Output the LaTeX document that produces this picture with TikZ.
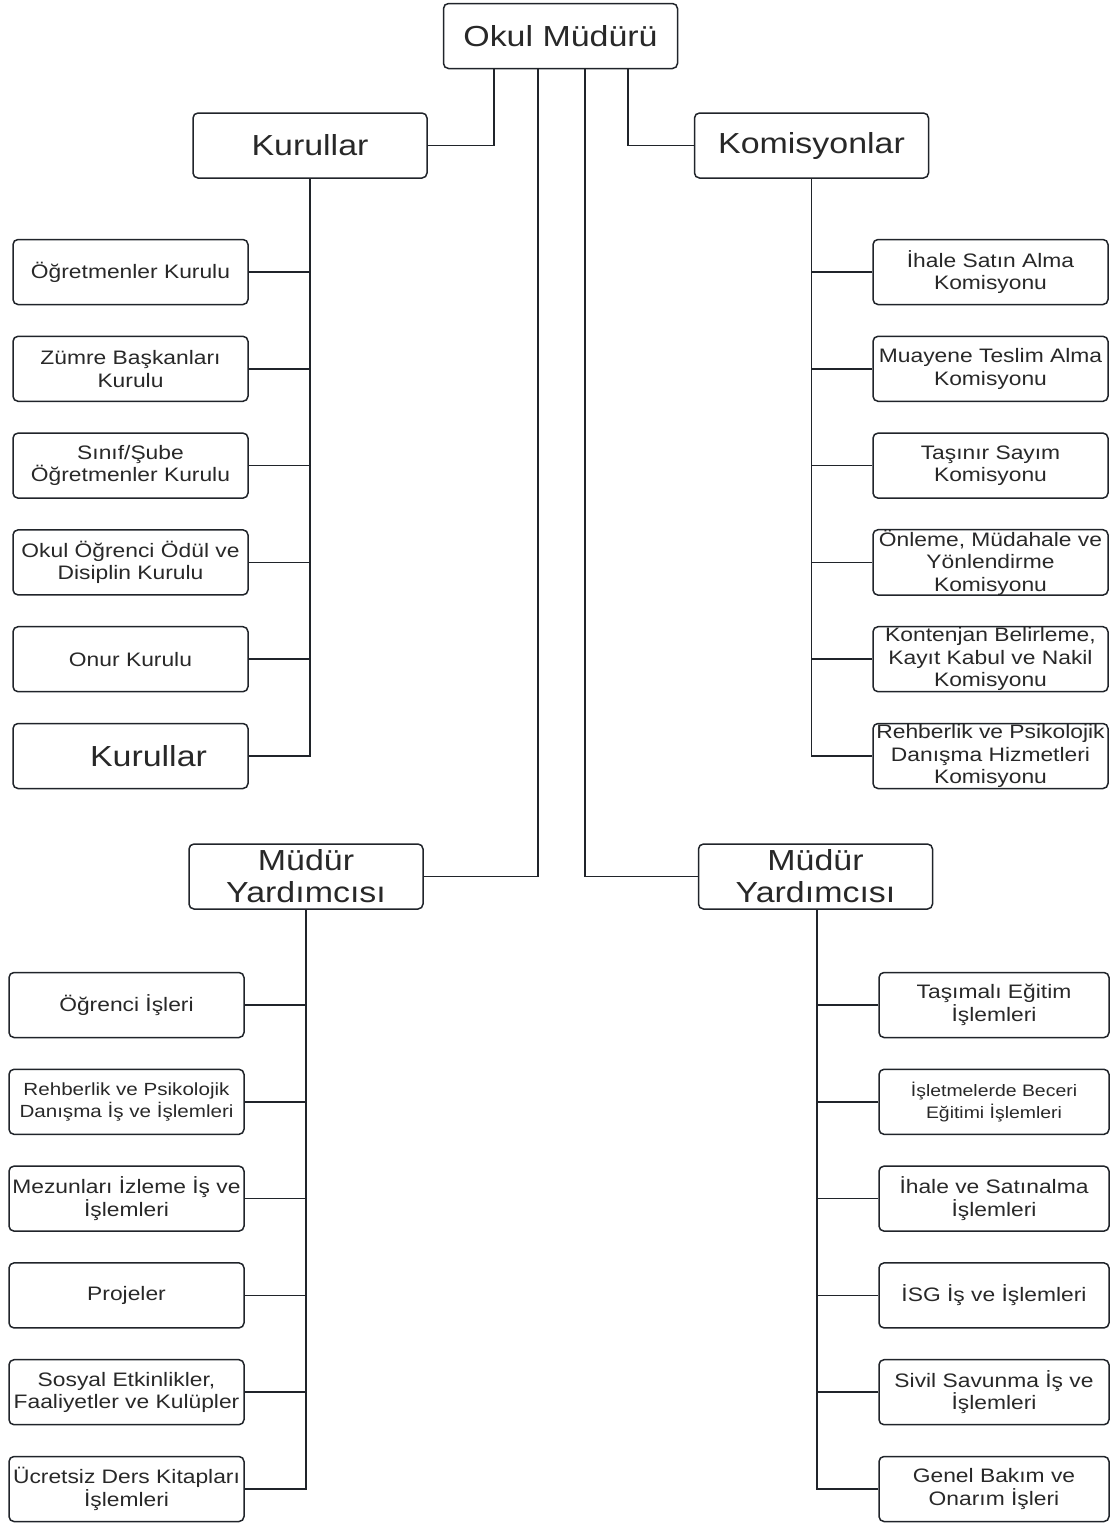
\documentclass[tikz,border=0pt]{standalone}
\usepackage{fontspec}
\setmainfont{Liberation Sans}[FakeStretch=1.17]
\definecolor{linecol}{RGB}{32,36,42}
\definecolor{textcol}{RGB}{40,40,40}
\newcommand{\headfont}{\fontsize{29}{32}\selectfont}
\newcommand{\itemfont}{\fontsize{19.5}{22.5}\selectfont}
\newcommand{\tinyitemfont}{\fontsize{17.6}{22.5}\selectfont}
\tikzset{
  box/.style={draw=linecol, line width=1.5pt, rounded corners=5pt, inner sep=0pt, align=center, text=textcol},
  headbox/.style={box, minimum width=234pt, minimum height=65pt, font=\headfont},
  itembox/.style={box, minimum width=235pt, minimum height=65pt, font=\itemfont},
  link/.style={draw=linecol, line width=1.5pt}
}

\begin{document}
\begin{tikzpicture}[x=1pt,y=-1pt]
    \useasboundingbox (0,0) rectangle (1110,1524);
    % top level
    \node[headbox] (okul) at (560.5,36) {Okul Müdürü};
    \node[headbox] (kur) at (310,145.5) {Kurullar};
    \node[headbox] (kom) at (811.5,145.5) {Komisyonlar};
    \node[headbox] (myl) at (306,876.5) {Müdür\\Yardımcısı};
    \node[headbox] (myr) at (815.5,876.5) {Müdür\\Yardımcısı};

    % kurullar
    \node[itembox] (kr1) at (130.5,272) {Öğretmenler Kurulu};
    \node[itembox] (kr2) at (130.5,368.8) {Zümre Başkanları\\Kurulu};
    \node[itembox] (kr3) at (130.5,465.6) {Sınıf/Şube\\Öğretmenler Kurulu};
    \node[itembox] (kr4) at (130.5,562.4) {Okul Öğrenci Ödül ve\\Disiplin Kurulu};
    \node[itembox] (kr5) at (130.5,659.2) {Onur Kurulu};
    \node[itembox,font=\headfont] (kr6) at (130.5,756) {\hspace*{36pt}Kurullar};

    % komisyonlar
    \node[itembox] (km1) at (990.5,272) {İhale Satın Alma\\Komisyonu};
    \node[itembox] (km2) at (990.5,368.8) {Muayene Teslim Alma\\Komisyonu};
    \node[itembox] (km3) at (990.5,465.6) {Taşınır Sayım\\Komisyonu};
    \node[itembox] (km4) at (990.5,562.4) {Önleme, Müdahale ve\\Yönlendirme\\Komisyonu};
    \node[itembox] (km5) at (990.5,659.2) {Kontenjan Belirleme,\\Kayıt Kabul ve Nakil\\Komisyonu};
    \node[itembox] (km6) at (990.5,756) {Rehberlik ve Psikolojik\\Danışma Hizmetleri\\Komisyonu};

    % sol mudur yardimcisi
    \node[itembox] (ly1) at (126.5,1005) {Öğrenci İşleri};
    \node[itembox,font=\tinyitemfont] (ly2) at (126.5,1101.8) {Rehberlik ve Psikolojik\\Danışma İş ve İşlemleri};
    \node[itembox] (ly3) at (126.5,1198.6) {Mezunları İzleme İş ve\\İşlemleri};
    \node[itembox] (ly4) at (126.5,1295.4) {Projeler};
    \node[itembox] (ly5) at (126.5,1392.2) {Sosyal Etkinlikler,\\Faaliyetler ve Kulüpler};
    \node[itembox] (ly6) at (126.5,1489) {Ücretsiz Ders Kitapları\\İşlemleri};

    % sag mudur yardimcisi
    \node[itembox,minimum width=230pt] (ry1) at (994,1005) {Taşımalı Eğitim\\İşlemleri};
    \node[itembox,minimum width=230pt,font=\fontsize{16.6}{22.5}\selectfont] (ry2) at (994,1101.8) {İşletmelerde Beceri\\Eğitimi İşlemleri};
    \node[itembox,minimum width=230pt] (ry3) at (994,1198.6) {İhale ve Satınalma\\İşlemleri};
    \node[itembox,minimum width=230pt] (ry4) at (994,1295.4) {İSG İş ve İşlemleri};
    \node[itembox,minimum width=230pt] (ry5) at (994,1392.2) {Sivil Savunma İş ve\\İşlemleri};
    \node[itembox,minimum width=230pt] (ry6) at (994,1489) {Genel Bakım ve\\Onarım İşleri};

    % baglantilar
    \draw[link] ([xshift=-66.5pt]okul.south) |- (kur.east);
    \draw[link] ([xshift=-22.5pt]okul.south) |- (myl.east);
    \draw[link] ([xshift=24.5pt]okul.south) |- (myr.west);
    \draw[link] ([xshift=67.5pt]okul.south) |- (kom.west);

    \draw[link] (kur.south) |- (kr6.east);
    \draw[link] (kom.south) |- (km6.west);
    \draw[link] (myl.south) |- (ly6.east);
    \draw[link] ([xshift=1.5pt]myr.south) |- (ry6.west);
    \foreach \i in {1,...,5} {
        \draw[link] (kr\i.east) -- (kr\i.east -| kur.south);
        \draw[link] (km\i.west) -- (km\i.west -| kom.south);
        \draw[link] (ly\i.east) -- (ly\i.east -| myl.south);
        \draw[link] (ry\i.west) -- ([xshift=1.5pt]ry\i.west -| myr.south);
    }
\end{tikzpicture}
\end{document}
